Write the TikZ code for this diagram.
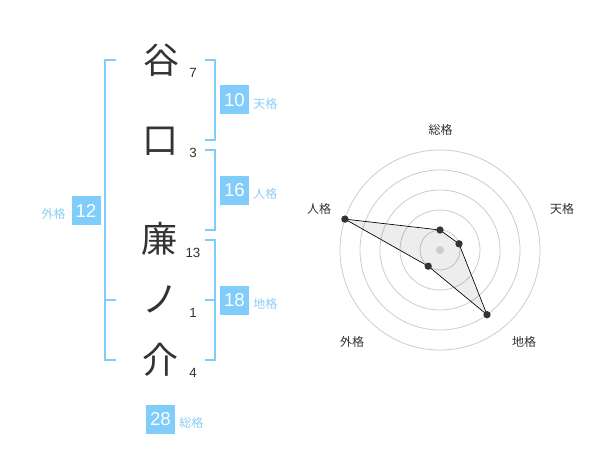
\documentclass[tikz,border=0pt]{standalone}
\usepackage{fontspec}
\setmainfont{Liberation Sans}
\newfontfamily\cjk{Noto Sans CJK JP}
\definecolor{bbox}{RGB}{128,204,250}
\definecolor{blab}{RGB}{140,205,245}
\definecolor{gridc}{RGB}{204,204,204}
\definecolor{ink}{RGB}{51,51,51}
\begin{document}
\begin{tikzpicture}[x=0.75pt,y=-0.75pt,
  kanji/.style={font=\cjk\fontsize{27}{30}\selectfont,text=ink,inner sep=0pt},
  stroke/.style={font=\fontsize{10}{12}\selectfont,text=ink,inner sep=0pt},
  numbox/.style={fill=bbox,text=white,font=\fontsize{14}{16}\selectfont,minimum width=21.75pt,minimum height=21.75pt,inner sep=0pt},
  kaku/.style={font=\cjk\fontsize{9}{11}\selectfont,text=blab,inner sep=0pt},
  brk/.style={draw=bbox,line width=1.5pt},
  rlab/.style={font=\cjk\fontsize{9}{11}\selectfont,text=ink,inner sep=0pt},
  grid/.style={draw=gridc,line width=0.6pt},
  dot/.style={circle,fill=ink,inner sep=0pt,minimum size=5.5pt},
  poly/.style={draw=black,line width=0.5pt}]
\useasboundingbox (0,0) rectangle (600,470);
% characters
\node[kanji] (c1) at (161,60) {谷};
\node[kanji] (c2) at (160,141) {口};
\node[kanji] (c3) at (159,239) {廉};
\node[kanji] (c4) at (160,299) {ノ};
\node[kanji] (c5) at (160,360) {介};
% stroke counts
\node[stroke] (n1) at (193,73) {7};
\node[stroke] (n2) at (193,153) {3};
\node[stroke] (n3) at (193,252.5) {13};
\node[stroke] (n4) at (193,313) {1};
\node[stroke] (n5) at (193,373) {4};
% brackets
\draw[brk] (205,60) -- (215,60) -- (215,140) -- (205,140);
\draw[brk] (205,150) -- (215,150) -- (215,230) -- (205,230);
\draw[brk] (205,240) -- (215,240) -- (215,360) -- (205,360);
\draw[brk] (205,300) -- (215,300);
\draw[brk] (116,60) -- (105,60) -- (105,360) -- (116,360);
\draw[brk] (105,300) -- (116,300);
% boxes and labels
\node[numbox] (b1) at (234.5,100) {10};
\node[kaku,anchor=west] (k1) at (253,104) {天格};
\node[numbox] (b2) at (234.5,190.5) {16};
\node[kaku,anchor=west] (k2) at (253,194) {人格};
\node[numbox] (b3) at (234.5,300.5) {18};
\node[kaku,anchor=west] (k3) at (253,304) {地格};
\node[numbox] (b4) at (86,210.5) {12};
\node[kaku,anchor=east] (k4) at (66,214) {外格};
\node[numbox] (b5) at (160.5,419) {28};
\node[kaku,anchor=west] (k5) at (179,423) {総格};
% radar chart
\coordinate (C) at (440,250);
\foreach \r in {20,40,60,80,100} \draw[grid] (C) circle[radius=\r];
\node[rlab] (l1) at (440.5,130) {総格};
\node[rlab] (l2) at (562,208.5) {天格};
\node[rlab] (l3) at (524,342) {地格};
\node[rlab] (l4) at (352,342) {外格};
\node[rlab] (l5) at (319,209) {人格};
\coordinate (p1) at (440,230);
\coordinate (p2) at (459,243.8);
\coordinate (p3) at (487,314.7);
\coordinate (p4) at (428.2,266.2);
\coordinate (p5) at (344.9,219.1);
\fill[black,opacity=0.07] (p1) -- (p2) -- (p3) -- (p4) -- (p5) -- cycle;
\draw[poly] (p1) -- (p2) -- (p3) -- (p4) -- (p5) -- cycle;
\node[circle,fill=gridc,inner sep=0pt,minimum size=6pt] (ctr) at (C) {};
\foreach \p in {p1,p2,p3,p4,p5} \node[dot] at (\p) {};
\end{tikzpicture}
\end{document}
